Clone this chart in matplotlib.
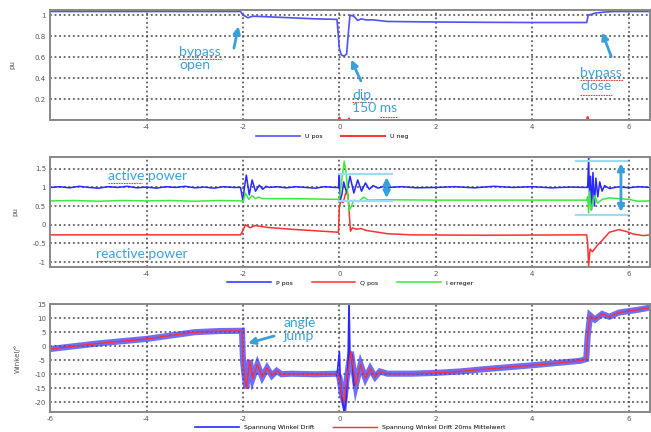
import matplotlib
matplotlib.use("Agg")
import matplotlib.pyplot as plt

# ---- panel 1: voltage (pu) ----
upos_t = [-6.0, -2.05, -2.0, -1.95, -1.9, -1.8, -1.5, -1.0, -0.5, -0.05, 0.0, 0.04, 0.1, 0.15,
          0.19, 0.22, 0.3, 0.38, 0.45, 0.55, 0.7, 1.0, 2.0, 3.0, 4.0, 5.13, 5.16, 5.25, 5.3,
          5.4, 5.5, 5.7, 6.45]
upos_v = [1.035, 1.035, 1.0, 0.99, 0.975, 0.99, 0.985, 0.975, 0.965, 0.96, 0.68, 0.62, 0.61,
          0.63, 0.85, 1.0, 0.99, 0.95, 0.965, 0.955, 0.955, 0.94, 0.935, 0.932, 0.93, 0.93,
          1.0, 1.01, 1.02, 1.025, 1.03, 1.035, 1.035]
uneg_t = [-6.0, -0.02, 0.0, 0.02, 0.18, 0.2, 0.22, 5.13, 5.15, 5.17, 6.45]
uneg_v = [0.0, 0.0, 0.025, 0.0, 0.0, 0.015, 0.0, 0.0, 0.03, 0.0, 0.0]

# ---- panel 2: power / excitation current (pu) ----
ppos_t = [-6.0, -5.8, -5.6, -5.4, -5.2, -5.0, -4.8, -4.6, -4.4, -4.2, -4.0, -3.8, -3.6, -3.4,
          -3.2, -3.0, -2.8, -2.6, -2.4, -2.2, -2.05, -2.0, -1.97, -1.93, -1.87, -1.81, -1.74,
          -1.66, -1.59, -1.52, -1.45, -1.3, -1.1, -0.9, -0.7, -0.5, -0.3, -0.1, -0.02, 0.0,
          0.01, 0.05, 0.09, 0.15, 0.22, 0.3, 0.38, 0.46, 0.54, 0.62, 0.7, 0.8, 0.9, 1.0, 1.3,
          1.6, 2.0, 2.4, 2.8, 3.2, 3.6, 4.0, 4.4, 4.8, 5.1, 5.15, 5.17, 5.19, 5.21, 5.23, 5.26,
          5.29, 5.32, 5.36, 5.4, 5.45, 5.5, 5.6, 5.8, 6.0, 6.2, 6.45]
ppos_v = [1.0, 1.02, 0.99, 1.03, 1.0, 0.98, 1.02, 1.0, 1.03, 0.99, 1.01, 0.98, 1.02, 1.0, 1.03,
          0.99, 1.01, 0.98, 1.02, 1.0, 1.0, 0.63, 1.0, 1.33, 0.8, 1.2, 0.9, 1.06, 0.95, 1.03,
          1.0, 1.02, 0.99, 1.02, 1.0, 0.98, 1.02, 1.0, 1.0, 1.35, 0.62, 0.8, 1.15, 0.85, 1.3,
          0.85, 1.2, 0.9, 1.12, 0.95, 1.05, 0.98, 1.02, 1.0, 1.02, 0.99, 1.0, 1.02, 0.99, 1.03,
          1.0, 1.02, 0.99, 1.01, 1.0, 1.0, 1.8, 0.6, 1.3, 0.4, 1.4, 0.5, 1.25, 0.75, 1.15, 0.9,
          1.05, 0.97, 1.02, 0.99, 1.02, 1.0]
qpos_t = [-6.0, -2.05, -2.0, -1.95, -1.85, -1.75, -1.5, -1.0, -0.5, -0.02, 0.0, 0.03, 0.08,
          0.13, 0.18, 0.21, 0.23, 0.27, 0.35, 0.45, 0.55, 0.7, 1.0, 1.5, 3.0, 5.13, 5.15, 5.17,
          5.2, 5.25, 5.35, 5.45, 5.6, 5.8, 5.95, 6.1, 6.3, 6.45]
qpos_v = [-0.27, -0.27, -0.15, 0.0, -0.08, -0.02, -0.07, -0.12, -0.16, -0.2, 0.5, 0.62, 0.6,
          0.85, 0.8, 0.2, -0.17, -0.08, -0.12, -0.1, -0.15, -0.18, -0.24, -0.27, -0.28, -0.27,
          -0.5, -1.1, -0.65, -0.72, -0.55, -0.42, -0.2, -0.13, -0.18, -0.25, -0.29, -0.27]
ierr_t = [-6.0, -5.5, -5.0, -4.5, -4.0, -3.5, -3.0, -2.5, -2.02, -2.0, -1.95, -1.88, -1.81,
          -1.74, -1.67, -1.6, -1.0, -0.02, 0.0, 0.05, 0.1, 0.14, 0.2, 0.25, 0.3, 0.4, 0.5, 0.6,
          1.0, 2.0, 3.0, 4.0, 5.13, 5.15, 5.17, 5.19, 5.22, 5.26, 5.3, 5.35, 5.45, 5.6, 5.8,
          6.0, 6.2, 6.45]
ierr_v = [0.64, 0.65, 0.63, 0.65, 0.64, 0.65, 0.63, 0.65, 0.64, 0.6, 0.85, 0.68, 0.78, 0.7,
          0.74, 0.7, 0.7, 0.68, 0.7, 1.2, 1.7, 1.4, 0.38, 0.5, 0.66, 0.62, 0.74, 0.66, 0.67,
          0.66, 0.66, 0.66, 0.66, 0.75, 0.32, 0.9, 0.4, 0.6, 0.78, 0.58, 0.68, 0.72, 0.7, 0.68,
          0.63, 0.64]

# ---- panel 3: voltage angle drift (deg) ----
mean_t = [-6.0, -5.5, -5.0, -4.5, -4.0, -3.5, -3.0, -2.5, -2.02, -2.0, -1.97, -1.93, -1.86,
          -1.8, -1.7, -1.6, -1.5, -1.4, -1.3, -1.2, -1.0, -0.5, -0.05, 0.0, 0.05, 0.1, 0.15,
          0.2, 0.24, 0.34, 0.44, 0.54, 0.64, 0.74, 0.84, 1.0, 1.5, 2.0, 2.5, 3.0, 3.5, 4.0,
          4.5, 5.0, 5.12, 5.15, 5.2, 5.3, 5.45, 5.6, 5.8, 6.0, 6.2, 6.45]
mean_v = [-1.0, 0.0, 1.0, 1.8, 2.6, 3.8, 5.0, 5.4, 5.5, -5.0, -10.0, -15.0, -5.0, -11.5,
          -6.5, -11.0, -7.8, -10.5, -8.8, -10.0, -9.8, -10.0, -9.8, -11.0, -17.0, -20.0, -12.0,
          -6.0, -2.0, -14.0, -6.5, -11.5, -8.0, -11.0, -9.0, -9.8, -9.8, -9.5, -9.0, -8.2,
          -7.5, -6.8, -6.0, -5.2, -4.6, 3.5, 11.0, 9.5, 11.5, 10.5, 12.0, 12.5, 13.0, 13.8]
spike_t = [-0.05, 0.0, 0.02, 0.06, 0.1, 0.14, 0.18, 0.2, 0.22, 0.26, 0.3]
spike_v = [-10.5, -2.0, -13.0, -19.0, -23.5, -19.0, -6.0, 16.0, -4.0, -3.0, -14.0]

xticks = [-6, -4, -2, 0, 2, 4, 6]
BLUE = "#2828ff"
RED = "#ff3030"
GREEN = "#3ee83e"
ANN = "#3aa0dc"
SQUIG = "#e04040"

fig = plt.figure(figsize=(6.51, 4.32), dpi=100)
ax1 = fig.add_axes([0.077, 0.722, 0.922, 0.255])
ax2 = fig.add_axes([0.077, 0.382, 0.922, 0.255])
ax3 = fig.add_axes([0.077, 0.046, 0.922, 0.250])


def style(ax, yticks, ylabels, xlabels):
    ax.set_xlim(-6, 6.45)
    ax.set_xticks(xticks)
    ax.set_xticklabels(xlabels)
    ax.set_yticks(yticks)
    ax.set_yticklabels(ylabels)
    ax.grid(True, linestyle=(0, (1.2, 1.8)), color="#444444", linewidth=1.1)
    ax.tick_params(labelsize=5, colors="#555555", length=0, pad=3)
    for s in ax.spines.values():
        s.set_color("#888888")
        s.set_linewidth(1.4)


def note(ax, x, y, s, va="top"):
    ax.text(x, y, s, color=ANN, fontsize=10, family="Lato", va=va, linespacing=1.1)


def arrow(ax, head, tail, style_="-|>"):
    ax.annotate("", xy=head, xytext=tail,
                arrowprops=dict(arrowstyle=style_, color=ANN, lw=2, mutation_scale=10))


def squiggle(ax, x0, x1, y):
    ax.plot([x0, x1], [y, y], color=SQUIG, lw=0.8, linestyle=(0, (1.5, 0.8)))


# panel 1
ax1.plot(upos_t, upos_v, color="#5050ff", lw=1.2, label="U pos")
ax1.plot(uneg_t, uneg_v, color=RED, lw=1.4, label="U neg")
ax1.set_ylim(0, 1.05)
style(ax1, [0.2, 0.4, 0.6, 0.8, 1.0], ["0.2", "0.4", "0.6", "0.8", "1"],
      ["", "-4", "-2", "0", "2", "4", "6"])
ax1.set_ylabel("pu", fontsize=5, color="#555555", labelpad=14)
ax1.legend(loc="upper center", bbox_to_anchor=(0.47, -0.07), ncol=2, frameon=False,
           fontsize=4.5, handlelength=7, columnspacing=3)

note(ax1, -3.32, 0.71, "bypass\nopen")
squiggle(ax1, -3.32, -2.45, 0.58)
arrow(ax1, (-2.08, 0.92), (-2.2, 0.66))
note(ax1, 0.27, 0.30, "dip\n150 ms")
squiggle(ax1, 0.27, 0.66, 0.17)
squiggle(ax1, 0.85, 1.22, 0.025)
arrow(ax1, (0.22, 0.6), (0.47, 0.35))
note(ax1, 5.0, 0.51, "bypass\nclose")
squiggle(ax1, 5.0, 5.88, 0.38)
squiggle(ax1, 5.0, 5.65, 0.235)
arrow(ax1, (5.43, 0.86), (5.66, 0.58))

# panel 2
ax2.plot(ppos_t, ppos_v, color=BLUE, lw=1.1, label="P pos")
ax2.plot(qpos_t, qpos_v, color=RED, lw=1.1, label="Q pos")
ax2.plot(ierr_t, ierr_v, color=GREEN, lw=1.1, label="I erreger")
ax2.set_ylim(-1.13, 1.82)
style(ax2, [-1, -0.5, 0, 0.5, 1, 1.5], ["-1", "-0.5", "0", "0.5", "1", "1.5"],
      ["", "-4", "-2", "0", "2", "4", "6"])
ax2.set_ylabel("pu", fontsize=5, color="#555555", labelpad=10)
ax2.legend(loc="upper center", bbox_to_anchor=(0.5, -0.07), ncol=3, frameon=False,
           fontsize=4.5, handlelength=7, columnspacing=3)

note(ax2, -4.8, 1.3, "active power", va="center")
squiggle(ax2, -4.8, -4.1, 1.12)
note(ax2, -5.05, -0.77, "reactive power", va="center")
squiggle(ax2, -5.05, -3.96, -0.96)
box_c = "#9fdcf0"
ax2.plot([0.0, 1.1], [1.35, 1.35], color=box_c, lw=1.6)
ax2.plot([0.0, 1.1], [0.64, 0.64], color=box_c, lw=1.6)
arrow(ax2, (0.98, 1.35), (0.98, 0.64), "<|-|>")
ax2.plot([4.9, 5.96], [1.72, 1.72], color=box_c, lw=1.6)
ax2.plot([4.9, 5.96], [0.27, 0.27], color=box_c, lw=1.6)
arrow(ax2, (5.84, 1.72), (5.84, 0.27), "<|-|>")

# panel 3
ax3.plot(mean_t, mean_v, color="#3c3cff", lw=4.4, alpha=0.75, solid_joinstyle="miter")
ax3.plot(spike_t, spike_v, color=BLUE, lw=1.2)
ax3.plot([], [], color=BLUE, lw=1.2, label="Spannung Winkel Drift")
ax3.plot(mean_t, mean_v, color=RED, lw=1.0, label="Spannung Winkel Drift 20ms Mittelwert")
ax3.set_ylim(-23.5, 15)
style(ax3, [-20, -15, -10, -5, 0, 5, 10, 15],
      ["-20", "-15", "-10", "-5", "0", "5", "10", "15"],
      ["-6", "-4", "-2", "0", "2", "4", "6"])
ax3.set_ylabel("Winkel/°", fontsize=5, color="#555555", labelpad=10)
ax3.legend(loc="upper center", bbox_to_anchor=(0.5, -0.065), ncol=2, frameon=False,
           fontsize=4.5, handlelength=7, columnspacing=3)

note(ax3, -1.15, 10.3, "angle\njump")
arrow(ax3, (-1.95, 0.8), (-1.3, 3.9))

fig.savefig("out.png", dpi=100)
